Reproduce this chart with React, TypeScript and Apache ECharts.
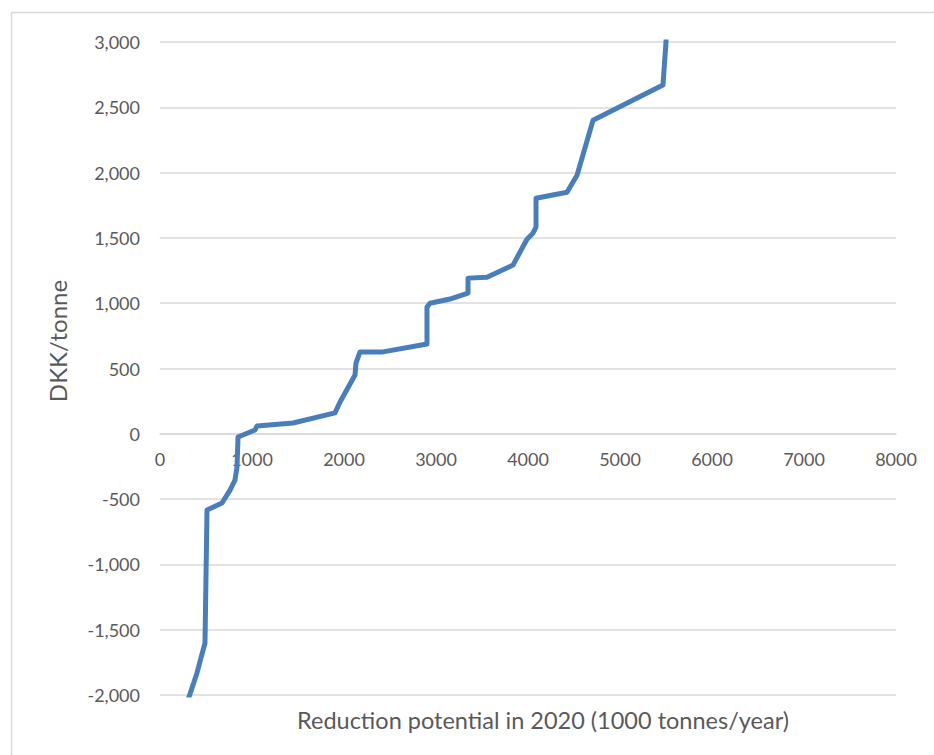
import React, { useEffect, useRef } from "react";
import * as echarts from "echarts";

const reductionPotential = [
  228, 315, 402, 489, 511, 674, 761, 815, 837, 848, 1033, 1054, 1446, 1902, 1957,
  2120, 2130, 2174, 2424, 2902, 2902, 2935, 3152, 3348, 3348, 3554, 3837, 3989,
  4054, 4087, 4087, 4424, 4533, 4707, 5467, 5500, 5512,
];
const costPerTonne = [
  -2200, -2016, -1831, -1602, -584, -530, -431, -355, -255, -25, 29, 60, 83, 160, 243,
  450, 541, 627, 627, 688, 970, 1000, 1032, 1078, 1192, 1198, 1292, 1490,
  1536, 1582, 1804, 1850, 1980, 2401, 2670, 3000, 3300,
];
const xTitle = "Reduction potential in 2020 (1000 tonnes/year)";
const yTitle = "DKK/tonne";

const Y_MIN = -2000;
const Y_MAX = 3000;
const GRID_TOP = 42;
const GRID_BOTTOM = 60;
const HEIGHT = 755;

export default function App() {
  const ref = useRef<HTMLDivElement>(null);
  useEffect(() => {
    if (!ref.current) return;
    const chart = echarts.init(ref.current, null, { renderer: "svg" });
    const font = "Lato, 'Open Sans', sans-serif";
    const plotH = HEIGHT - GRID_TOP - GRID_BOTTOM;
    const zeroOffset = -(plotH * (0 - Y_MIN)) / (Y_MAX - Y_MIN);
    chart.setOption({
      animation: false,
      backgroundColor: "#ffffff",
      grid: { left: 160, right: 38, top: GRID_TOP, bottom: GRID_BOTTOM, containLabel: false },
      xAxis: {
        type: "value",
        min: 0,
        max: 8000,
        interval: 1000,
        position: "bottom",
        offset: zeroOffset,
        axisLine: { show: true, onZero: false, lineStyle: { color: "#d9d9d9", width: 1.5 } },
        axisTick: { show: false },
        splitLine: { show: false },
        axisLabel: {
          color: "#595959",
          fontSize: 18,
          fontFamily: font,
          margin: 16,
          formatter: (v: number) => String(v),
        },
      },
      yAxis: {
        type: "value",
        min: Y_MIN,
        max: Y_MAX,
        interval: 500,
        axisLine: { show: false },
        axisTick: { show: false },
        splitLine: { show: true, lineStyle: { color: "#d9d9d9", width: 1.5 } },
        axisLabel: {
          color: "#595959",
          fontSize: 18,
          fontFamily: font,
          margin: 20,
          formatter: (v: number) => v.toLocaleString("en-US"),
        },
      },
      series: [
        {
          type: "line",
          data: reductionPotential.map((x, i) => [x, costPerTonne[i]]),
          showSymbol: false,
          clip: true,
          lineStyle: { color: "#4a7ebb", width: 5, join: "round" },
        },
      ],
      graphic: [
        {
          type: "rect",
          shape: { x: 11.5, y: 12.5, width: 1200, height: 1200 },
          style: { fill: "none", stroke: "#d9d9d9", lineWidth: 1.5 },
          silent: true,
        },
        {
          type: "text",
          x: 543,
          y: 720,
          style: {
            text: xTitle,
            fill: "#595959",
            fontSize: 23.5,
            fontFamily: font,
            align: "center",
            verticalAlign: "middle",
          },
        },
        {
          type: "text",
          x: 57,
          y: 341,
          rotation: Math.PI / 2,
          style: {
            text: yTitle,
            fill: "#595959",
            fontSize: 24,
            fontFamily: font,
            align: "center",
            verticalAlign: "middle",
          },
        },
      ],
    });
    return () => chart.dispose();
  }, []);
  return (
    <div
      ref={ref}
      style={{ position: "absolute", left: 0, top: 0, width: 934, height: HEIGHT }}
    />
  );
}
